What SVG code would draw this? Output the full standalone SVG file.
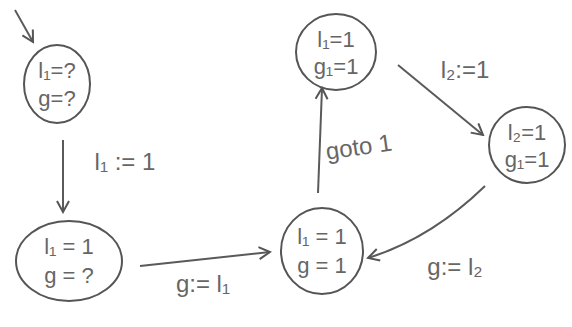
<svg xmlns="http://www.w3.org/2000/svg" width="572" height="327" viewBox="0 0 572 327">
<defs>
<marker id="ah" viewBox="0 0 14 14" refX="12" refY="7" markerWidth="14" markerHeight="14" markerUnits="userSpaceOnUse" orient="auto">
<path d="M1,1 L12,7 L1,13" fill="none" stroke="#555" stroke-width="2"/>
</marker>
<style>
.n{fill:none;stroke:#555;stroke-width:2}
.c{fill:none;stroke:#5a5a5a;stroke-width:2;marker-end:url(#ah)}
text{font-family:"Liberation Sans","DejaVu Sans",sans-serif;font-size:22px;fill:#666;text-anchor:middle}
.e{font-size:24px}
</style>
</defs>
<rect width="572" height="327" fill="#fff"/>
<g id="connectors">
<path class="c" d="M15,10 L33,42"/>
<path class="c" d="M63,140 L63,212"/>
<path class="c" d="M140,266 C180,262 230,256 270,252"/>
<path class="c" d="M318,193 L322,88"/>
<path class="c" d="M398,65 L483,135"/>
<path class="c" d="M485,186 C450,220 410,245 368,258"/>
</g>
<g id="edge-labels">
<text class="e" x="125" y="170">l₁ := 1</text>
<text class="e" x="203" y="292">g:= l₁</text>
<text class="e" x="360" y="155" transform="rotate(-8 360 155)">goto 1</text>
<text class="e" x="465" y="78">l₂:=1</text>
<text class="e" x="455" y="275">g:= l₂</text>
</g>
<g id="node1">
<ellipse class="n" cx="57" cy="84" rx="33" ry="39"/>
<text x="57" y="78">l₁=?</text>
<text x="57" y="106">g=?</text>
</g>
<g id="node2">
<ellipse class="n" cx="69" cy="261" rx="53" ry="40"/>
<text x="69" y="254">l₁ = 1</text>
<text x="69" y="283">g = ?</text>
</g>
<g id="node3">
<ellipse class="n" cx="322" cy="251" rx="41" ry="43"/>
<text x="322" y="244">l₁ = 1</text>
<text x="322" y="273">g = 1</text>
</g>
<g id="node4">
<ellipse class="n" cx="336" cy="52" rx="40" ry="38"/>
<text x="336" y="47">l₁=1</text>
<text x="336" y="74">g₁=1</text>
</g>
<g id="node5">
<ellipse class="n" cx="527" cy="145" rx="38" ry="38"/>
<text x="527" y="140">l₂=1</text>
<text x="527" y="167">g₁=1</text>
</g>
</svg>
